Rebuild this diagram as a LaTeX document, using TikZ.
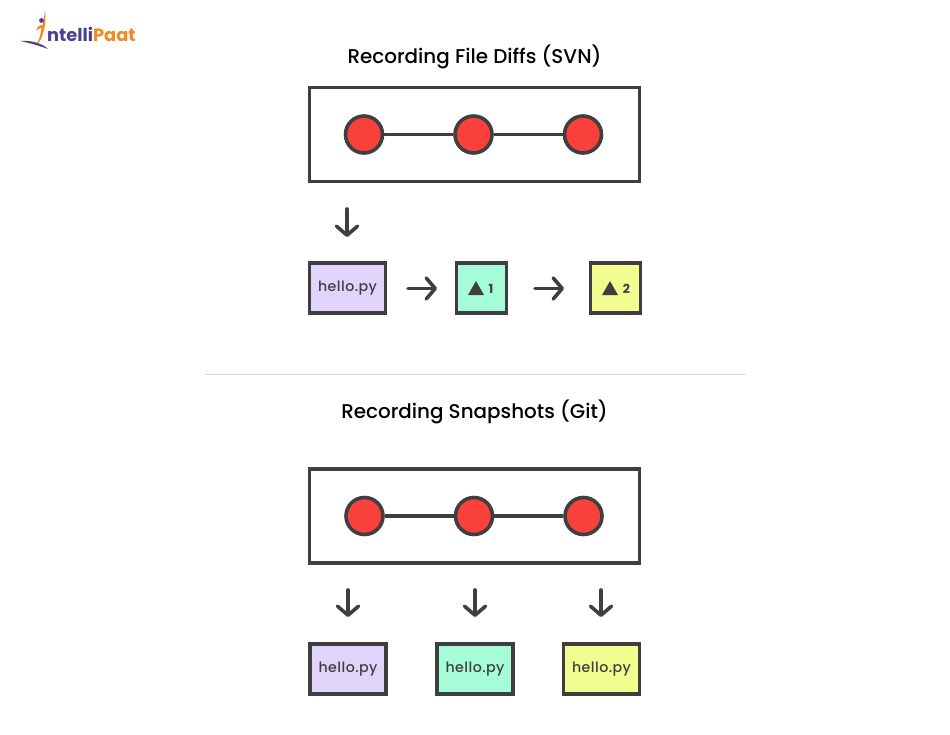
\documentclass[tikz,border=0pt]{standalone}
\usepackage{fontspec}
\setmainfont{Poppins}
\newfontfamily\med{Poppins Medium}
\usetikzlibrary{arrows.meta}
\definecolor{ink}{HTML}{3F3F41}
\definecolor{dotred}{HTML}{F9403A}
\definecolor{lav}{HTML}{E1D4FB}
\definecolor{mint}{HTML}{A5FCD8}
\definecolor{lemon}{HTML}{F1FD8E}
\definecolor{logopurple}{HTML}{4B3F8F}
\definecolor{logoorange}{HTML}{F08A24}
\tikzset{
  frame/.style={draw=ink,line width=3.6pt,fill=white,minimum width=330pt,minimum height=94pt,inner sep=0pt},
  dot/.style={circle,draw=ink,line width=3.6pt,fill=dotred,minimum size=37pt,inner sep=0pt},
  link/.style={draw=ink,line width=3.4pt},
  flow/.style={draw=ink,line width=3.6pt,line cap=round,-{Straight Barb[length=9pt,width=21pt,line width=3.6pt,round]}},
  filebox/.style={draw=ink,line width=3.6pt,minimum width=76pt,minimum height=50pt,inner sep=0pt,text=ink,font=\med\fontsize{14.2}{16}\selectfont\addfontfeatures{LetterSpace=3}},
  deltabox/.style={filebox,minimum width=50pt},
  title/.style={text=black,font=\med\fontsize{19.9}{22}\selectfont,inner sep=0pt},
  tri/.style={fill=ink,draw=none},
}
\begin{document}
\begin{tikzpicture}[x=1pt,y=-1pt]
\useasboundingbox (0,0) rectangle (950,735);
\fill[white] (0,0) rectangle (950,735);

% logo
\node[anchor=west,inner sep=0pt,font=\fontsize{17.8}{20}\selectfont\bfseries,text=logopurple] (logoa) at (47,34) {ntelli\textcolor{logoorange}{Paat}};
\fill[logoorange] (45,10) .. controls (46,20) and (45,28) .. (43,33) .. controls (42,39) and (39,43) .. (36,44) .. controls (39,41) and (40,37) .. (41,31) .. controls (43,25) and (44,18) .. (45,10) -- cycle;
\fill[logopurple] (41.5,20.5) circle (2.4pt);
\fill[logoorange] (36,31) .. controls (37,27) and (39,25) .. (43,25) -- (43,28) .. controls (40,28) and (38,29) .. (36,31) -- cycle;
\fill[logopurple] (20,41) .. controls (30,40) and (42,43) .. (48,49) .. controls (40,46) and (30,43) .. (20,41) -- cycle;

% titles and rule
\node[title] (t1) at (474.5,56.5) {Recording File Diffs (SVN)};
\node[title] (t2) at (474.5,411.5) {Recording Snapshots (Git)};
\coordinate (ruleL) at (205,374);
\coordinate (ruleR) at (746,374);
\draw[draw=black!15,line width=0.8pt] (ruleL) -- (ruleR);

% SVN
\node[frame] (f1) at (474.5,134.5) {};
\node[dot] (a1) at (364,134.5) {};
\node[dot] (a2) at (473.5,134.5) {};
\node[dot] (a3) at (583,134.5) {};
\draw[link] (a1) -- (a2);
\draw[link] (a2) -- (a3);
\coordinate (d1s) at (347,209);
\coordinate (d1e) at (347,237);
\draw[flow] (d1s) -- (d1e);
\node[filebox,fill=lav] (b1) at (347.5,288) {\raisebox{-3pt}{hello.py}};
\node[deltabox,fill=mint] (b2) at (481.5,288) {};
\node[deltabox,fill=lemon] (b3) at (615.5,288) {};
\fill[tri] (468,295) -- (476,281) -- (484,295) -- cycle;
\node[inner sep=0pt,text=ink,font=\fontsize{12.5}{14}\selectfont\bfseries] (n1) at (491,289) {1};
\fill[tri] (602,295) -- (610,281) -- (618,295) -- cycle;
\node[inner sep=0pt,text=ink,font=\fontsize{12.5}{14}\selectfont\bfseries] (n2) at (626.5,289) {2};
\coordinate (h1s) at (408,288.5);
\coordinate (h1e) at (437,288.5);
\coordinate (h2s) at (535,288.5);
\coordinate (h2e) at (564,288.5);
\draw[flow] (h1s) -- (h1e);
\draw[flow] (h2s) -- (h2e);

% Git
\node[frame] (f2) at (474.5,516) {};
\node[dot] (c1) at (364.5,516) {};
\node[dot] (c2) at (474,516) {};
\node[dot] (c3) at (583.5,516) {};
\draw[link] (c1) -- (c2);
\draw[link] (c2) -- (c3);
\node[filebox,fill=lav] (e1) at (348,669) {\raisebox{-3pt}{hello.py}};
\node[filebox,fill=mint] (e2) at (475,669) {\raisebox{-3pt}{hello.py}};
\node[filebox,fill=lemon] (e3) at (601.5,669) {\raisebox{-3pt}{hello.py}};
\coordinate (g1s) at (348,590);
\coordinate (g1e) at (348,617);
\coordinate (g2s) at (475,590);
\coordinate (g2e) at (475,617);
\coordinate (g3s) at (601,590);
\coordinate (g3e) at (601,617);
\draw[flow] (g1s) -- (g1e);
\draw[flow] (g2s) -- (g2e);
\draw[flow] (g3s) -- (g3e);
\end{tikzpicture}
\end{document}
